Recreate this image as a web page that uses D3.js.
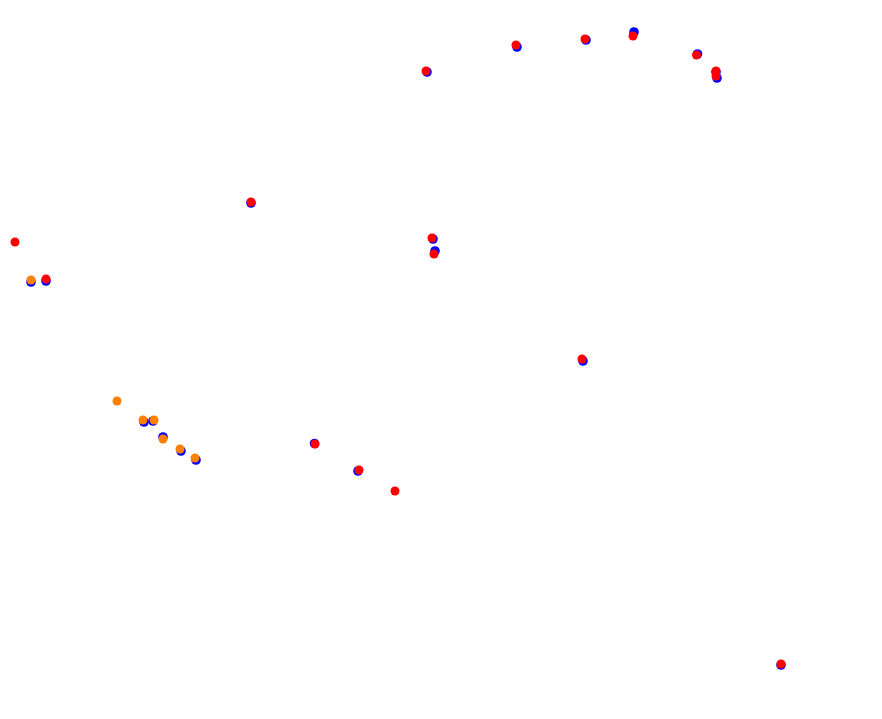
<!DOCTYPE html>
<html>
<head>
<meta charset="utf-8">
<script src="https://cdn.jsdelivr.net/npm/d3@7"></script>
<style>
  html, body { margin: 0; padding: 0; background: #ffffff; }
  svg { display: block; }
</style>
</head>
<body>
<script>
// Series values (x, y)
const blueX = [31, 46, 144, 153, 163, 181, 196, 251, 314.5, 358, 433, 435, 427, 517, 586, 634, 697.5, 716, 717, 583, 781];
const blueY = [282, 281, 422, 421, 437, 451, 460, 203, 443.5, 471, 239, 251, 72, 47, 40, 32, 54, 72, 78, 361, 665];

const redX = [15, 46, 251, 315, 359, 395, 432, 434, 426, 516, 585, 633, 696.5, 716, 716, 582, 781];
const redY = [242, 279, 202, 444, 470, 491, 238, 254, 71, 45, 39, 36, 55, 71, 76, 359, 664];

const orangeX = [31, 117, 143, 154, 163, 180, 195];
const orangeY = [280, 401, 420, 420, 439, 449, 458];

const seriesNames = ["blue", "red", "orange"];
const seriesColors = ["#0000ff", "#ff0000", "#ff8000"];
const seriesRadius = [4.8, 4.5, 4.5];

const W = 882, H = 719;
const x = d3.scaleLinear().domain([0, 882]).range([0, W]);
const y = d3.scaleLinear().domain([0, 719]).range([0, H]);

const svg = d3.select("body").append("svg").attr("width", W).attr("height", H);

const series = [
  {name: seriesNames[0], color: seriesColors[0], r: seriesRadius[0], xs: blueX, ys: blueY},
  {name: seriesNames[1], color: seriesColors[1], r: seriesRadius[1], xs: redX, ys: redY},
  {name: seriesNames[2], color: seriesColors[2], r: seriesRadius[2], xs: orangeX, ys: orangeY}
];

series.forEach(s => {
  const pts = s.xs.map((v, i) => ({x: v, y: s.ys[i]}));
  svg.append("g").attr("class", s.name)
    .selectAll("circle").data(pts).join("circle")
    .attr("cx", d => x(d.x))
    .attr("cy", d => y(d.y))
    .attr("r", s.r)
    .attr("fill", s.color);
});
</script>
</body>
</html>
